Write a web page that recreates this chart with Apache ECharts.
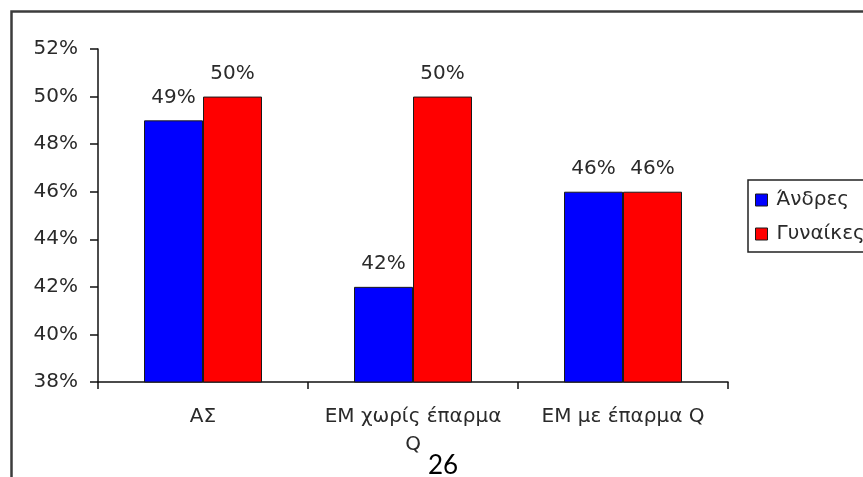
<!DOCTYPE html>
<html>
<head>
<meta charset="utf-8">
<script src="https://cdn.jsdelivr.net/npm/echarts@6/dist/echarts.min.js"></script>
<style>
  html, body { margin: 0; padding: 0; background: #ffffff; }
  #chart { width: 863px; height: 477px; }
</style>
</head>
<body>
<div id="chart"></div>
<script>
// Categories and values (percent)
const categories = ['ΑΣ', 'ΕΜ χωρίς έπαρμα\nQ', 'ΕΜ με έπαρμα Q'];
const seriesNames = ['Άνδρες', 'Γυναίκες'];
const menValues = [49, 42, 46];
const womenValues = [50, 50, 46];
const yMin = 38;
const yMax = 52;
const yStep = 2;
const pageNumber = '26';

const font = 'DejaVu Sans';
const fontSize = 20;
const textColor = '#2a2a2a';

const chart = echarts.init(document.getElementById('chart'), null, { renderer: 'canvas' });

const barSeries = (name, values, color) => ({
  name: name,
  type: 'bar',
  data: values,
  barWidth: 59,
  barGap: '0%',
  itemStyle: { color: color, borderColor: '#1a1a1a', borderWidth: 1 },
  label: {
    show: true,
    position: 'top',
    distance: 13,
    formatter: '{c}%',
    fontFamily: font,
    fontSize: fontSize,
    color: textColor
  }
});

chart.setOption({
  backgroundColor: '#ffffff',
  animation: false,
  grid: { left: 98, top: 49, right: 135, bottom: 95 },
  legend: {
    orient: 'vertical',
    left: 748,
    top: 180,
    padding: [10, 10, 8, 7],
    itemGap: 14,
    itemWidth: 12,
    itemHeight: 12,
    icon: 'rect',
    itemStyle: { borderColor: '#1a1a1a', borderWidth: 1 },
    textStyle: { fontFamily: font, fontSize: fontSize, color: textColor, padding: [0, 0, 0, 4] },
    data: seriesNames
  },
  xAxis: {
    type: 'category',
    data: categories,
    axisLine: { lineStyle: { color: '#111111', width: 1.5 } },
    axisTick: { show: true, interval: 0, length: 7, lineStyle: { color: '#111111', width: 1.5 } },
    axisLabel: {
      interval: 0,
      margin: 21,
      fontFamily: font,
      fontSize: fontSize,
      lineHeight: 28,
      color: textColor
    }
  },
  yAxis: {
    type: 'value',
    min: yMin,
    max: yMax,
    interval: yStep,
    splitLine: { show: false },
    axisLine: { show: true, lineStyle: { color: '#111111', width: 1.5 } },
    axisTick: { show: true, length: 8, lineStyle: { color: '#111111', width: 1.5 } },
    axisLabel: {
      margin: 20,
      formatter: '{value}%',
      fontFamily: font,
      fontSize: fontSize,
      color: textColor
    }
  },
  series: [
    barSeries(seriesNames[0], menValues, '#0000ff'),
    barSeries(seriesNames[1], womenValues, '#ff0000')
  ],
  graphic: [
    {
      // outer chart frame
      type: 'rect',
      silent: true,
      z: -1,
      shape: { x: 11.5, y: 11.5, width: 1000, height: 1000 },
      style: { fill: 'none', stroke: '#3c3c3c', lineWidth: 2.5 }
    },
    {
      // legend frame, running past the right edge
      type: 'rect',
      silent: true,
      z: -1,
      shape: { x: 748, y: 180, width: 200, height: 72 },
      style: { fill: 'none', stroke: '#222222', lineWidth: 1.5 }
    },
    {
      type: 'text',
      silent: true,
      x: 443,
      y: 466,
      style: {
        text: pageNumber,
        fontFamily: 'Lato',
        fontSize: 26,
        fill: '#000000',
        align: 'center',
        verticalAlign: 'middle'
      }
    }
  ]
});
</script>
</body>
</html>
